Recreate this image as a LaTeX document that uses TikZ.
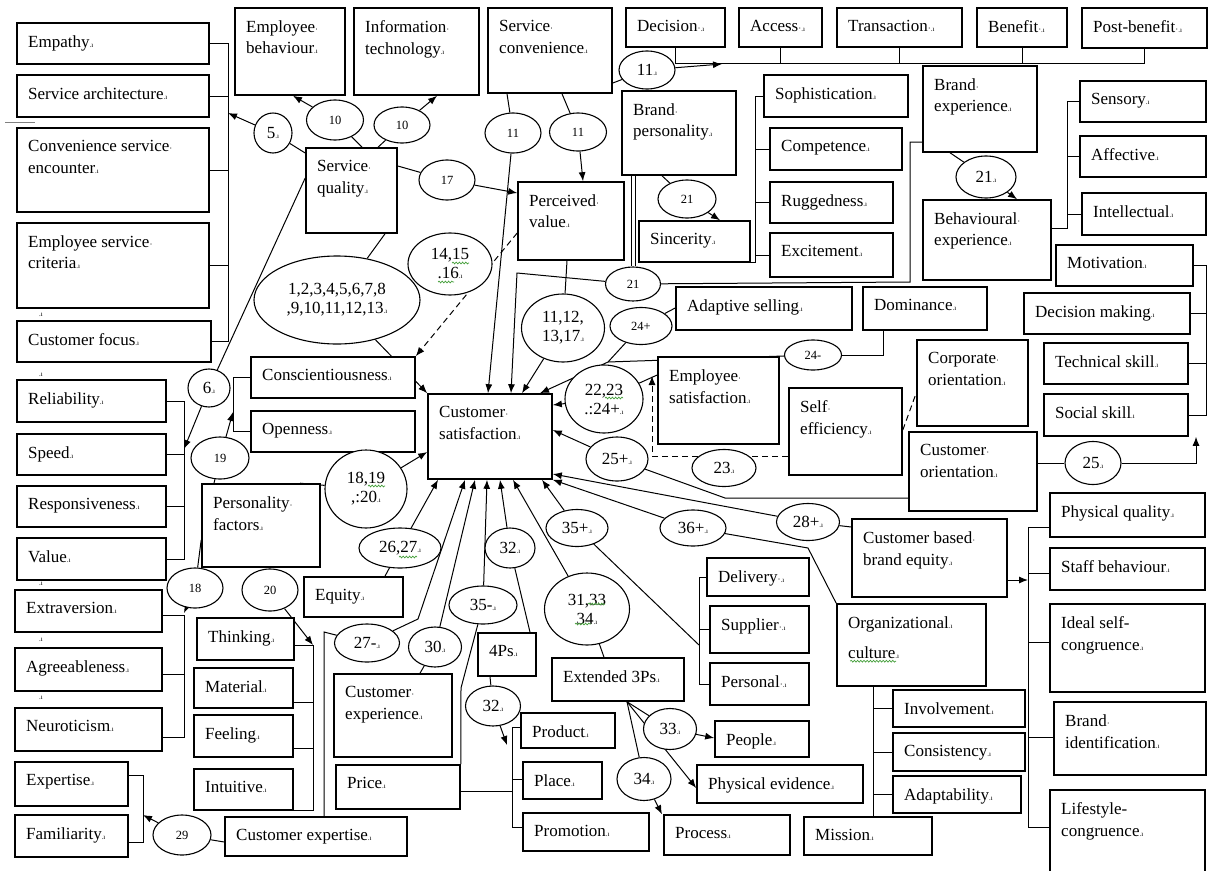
\documentclass[tikz,border=0pt]{standalone}
\usepackage{fontspec}
\setmainfont{Liberation Serif}
\usetikzlibrary{arrows.meta,calc,shapes.geometric,decorations.pathmorphing,backgrounds}

\definecolor{sqgreen}{RGB}{70,160,60}

% Word-style formatting marks
\newcommand\mk{{\fontsize{7}{7}\selectfont .ı}}
\newcommand\sd{{\fontsize{9}{9}\selectfont ·}}

% box: name, x1, y1, x2, y2, text (pixel coordinates, y downwards)
\newcommand\drawbox[6]{%
  \node[box, minimum width={#4-#2}, minimum height={#5-#3}] (#1) at ({(#2+#4)/2},{(#3+#5)/2}) {};
  \node[txt] (#1-t) at (#2,#3) {#6};}
% oval: name, cx, cy, width, height, text
\newcommand\drawoval[6]{%
  \node[oval, minimum width=#4, minimum height=#5] (#1) at (#2,#3) {#6};}

\begin{document}
\begin{tikzpicture}[x=1pt,y=-1pt,
  box/.style={draw, fill=white, line width=1.6pt, inner sep=0pt},
  txt/.style={anchor=north west, inner xsep=11pt, inner ysep=12.5pt, align=left,
              font=\fontsize{17}{21.5}\selectfont},
  oval/.style={draw, ellipse, fill=white, line width=1.1pt, inner sep=0pt, align=center,
               font=\fontsize{17}{19}\selectfont},
  ln/.style={line width=1pt},
  arr/.style={ln, -{Latex[length=9pt,width=7pt]}},
  dsh/.style={dash pattern=on 6pt off 4pt},
  sq/.style={draw=sqgreen, line width=0.7pt, decorate,
             decoration={snake, amplitude=0.9pt, segment length=3.2pt}},
]
\useasboundingbox (0,0) rectangle (1212,870);

% ---------- boxes ----------
\drawbox{empathy}{17}{23}{209}{64}{Empathy\mk}
\drawbox{servarch}{17}{75}{209}{117}{Service architecture\mk}
\drawbox{convenc}{17}{128}{209}{212}{Convenience service\sd\\encounter\mk}
\drawbox{empcrit}{17}{223}{209}{308}{Employee service\sd\\criteria\mk}
\drawbox{custfocus}{17}{321}{211}{362}{Customer focus\mk}
\drawbox{reliab}{17}{380}{166}{422}{Reliability\mk}
\drawbox{speed}{17}{434}{166}{475}{Speed\mk}
\drawbox{respons}{17}{486}{166}{527}{Responsiveness\mk}
\drawbox{value}{17}{538}{166}{580}{Value\mk}
\drawbox{extrav}{15}{590}{162}{632}{Extraversion\mk}
\drawbox{agree}{15}{648}{162}{691}{Agreeableness\mk}
\drawbox{neuro}{15}{708}{162}{751}{Neuroticism\mk}
\drawbox{expertise}{15}{762}{128}{806}{Expertise\mk}
\drawbox{famil}{15}{815}{128}{857}{Familiarity\mk}
\drawbox{empbeh}{235}{8}{345}{95}{Employee\sd\\behaviour\mk}
\drawbox{infotech}{354}{8}{479}{95}{Information\sd\\technology\mk}
\drawbox{servconv}{488}{8}{612}{93}{Service\sd\\convenience\mk}
\drawbox{decision}{626}{8}{725}{47}{Decision\sd\mk}
\drawbox{access}{739}{8}{822}{47}{Access\sd\mk}
\drawbox{transaction}{837}{8}{962}{47}{Transaction\sd\mk}
\drawbox{benefit}{977}{8}{1067}{47}{Benefit\sd\mk}
\drawbox{postben}{1082}{8}{1207}{48}{Post-benefit\sd\mk}
\drawbox{servqual}{306}{148}{397}{233}{Service\sd\\quality\mk}
\drawbox{percval}{518}{182}{624}{260}{Perceived\sd\\value\mk}
\drawbox{brandpers}{622}{91}{736}{175}{Brand\sd\\personality\mk}
\drawbox{sophist}{764}{75}{908}{117}{Sophistication\mk}
\drawbox{compet}{770}{128}{902}{170}{Competence\mk}
\drawbox{rugged}{770}{182}{893}{223}{Ruggedness\mk}
\drawbox{excite}{770}{233}{893}{277}{Excitement\mk}
\drawbox{sincerity}{639}{221}{750}{262}{Sincerity\mk}
\drawbox{brandexp}{923}{66}{1037}{152}{Brand\sd\\experience\mk}
\drawbox{behavexp}{923}{200}{1051}{280}{Behavioural\sd\\experience\mk}
\drawbox{sensory}{1080}{81}{1206}{122}{Sensory\mk}
\drawbox{affective}{1080}{136}{1206}{177}{Affective\mk}
\drawbox{intellect}{1082}{193}{1206}{235}{Intellectual\mk}
\drawbox{motivation}{1056}{245}{1193}{286}{Motivation\mk}
\drawbox{decmaking}{1024}{293}{1190}{334}{Decision making\mk}
\drawbox{techskill}{1044}{343}{1188}{384}{Technical skill\mk}
\drawbox{socskill}{1044}{394}{1188}{436}{Social skill\mk}
\drawbox{adaptsell}{676}{287}{852}{330}{Adaptive selling\mk}
\drawbox{dominance}{863}{287}{987}{330}{Dominance\mk}
\drawbox{consc}{251}{357}{415}{398}{Conscientiousness\mk}
\drawbox{openness}{251}{411}{415}{452}{Openness\mk}
\drawbox{custsat}{428}{394}{552}{479}{Customer\sd\\satisfaction\mk}
\drawbox{empsat}{658}{357}{779}{444}{Employee\sd\\satisfaction\mk}
\drawbox{selfeff}{789}{388}{902}{475}{Self\sd\\efficiency\mk}
\drawbox{corpor}{917}{340}{1028}{426}{Corporate\sd\\orientation\mk}
\drawbox{custor}{909}{432}{1037}{511}{Customer\sd\\orientation\mk}
\drawbox{cbbe}{852}{519}{1007}{597}{Customer based\sd\\brand equity\mk}
\drawbox{physq}{1050}{493}{1205}{537}{Physical quality\mk}
\drawbox{staffb}{1050}{548}{1205}{590}{Staff behaviour\mk}
\drawbox{idealself}{1050}{604}{1205}{692}{Ideal self-\\congruence\mk}
\drawbox{brandid}{1054}{702}{1206}{775}{Brand\sd\\identification\mk}
\drawbox{lifestyle}{1050}{790}{1205}{874}{Lifestyle-\\congruence\mk}
\drawbox{persfact}{202}{484}{320}{567}{Personality\sd\\factors\mk}
\drawbox{equity}{304}{577}{403}{617}{Equity\mk}
\drawbox{thinking}{197}{618}{294}{660}{Thinking\mk}
\drawbox{material}{194}{668}{293}{708}{Material\mk}
\drawbox{feeling}{194}{715}{293}{757}{Feeling\mk}
\drawbox{intuitive}{194}{769}{293}{810}{Intuitive\mk}
\drawbox{custexp}{334}{674}{452}{757}{Customer\sd\\experience\mk}
\drawbox{price}{336}{765}{460}{809}{Price\mk}
\drawbox{custexpert}{225}{817}{407}{856}{Customer expertise\mk}
\drawbox{fourps}{478}{633}{536}{676}{4Ps\mk}
\drawbox{product}{521}{713}{615}{748}{Product\mk}
\drawbox{place}{523}{762}{602}{799}{Place\mk}
\drawbox{promotion}{523}{813}{649}{851}{Promotion\mk}
\drawbox{ext3ps}{552}{658}{684}{701}{Extended 3Ps\mk}
\drawbox{delivery}{707}{558}{809}{596}{Delivery\sd\mk}
\drawbox{supplier}{710}{606}{809}{653}{Supplier\sd\mk}
\drawbox{personal}{710}{663}{809}{705}{Personal\sd\mk}
\drawbox{people}{715}{721}{809}{757}{People\mk}
\drawbox{physev}{697}{765}{863}{803}{Physical evidence\mk}
\drawbox{process}{664}{815}{790}{855}{Process\mk}
\drawbox{orgcult}{837}{604}{986}{686}{Organizational\mk\\[8pt]culture\mk}
\drawbox{involve}{893}{690}{1025}{727}{Involvement\mk}
\drawbox{consist}{893}{733}{1025}{771}{Consistency\mk}
\drawbox{adapt}{893}{776}{1021}{813}{Adaptability\mk}
\drawbox{mission}{804}{817}{932}{855}{Mission\mk}

% ---------- ovals ----------
\drawoval{e5}{273}{133}{38}{40}{5\mk}
\drawoval{e10a}{335}{120}{57}{40}{\fontsize{12.5}{14}\selectfont 10}
\drawoval{e10b}{402}{125}{56}{36}{\fontsize{12.5}{14}\selectfont 10}
\drawoval{e11a}{513}{133}{56}{40}{\fontsize{12.5}{14}\selectfont 11}
\drawoval{e11b}{578}{132}{57}{38}{\fontsize{12.5}{14}\selectfont 11}
\drawoval{e11c}{647}{70}{56}{38}{11\mk}
\drawoval{e17}{447}{180}{56}{40}{\fontsize{12.5}{14}\selectfont 17}
\drawoval{e21a}{687}{199}{58}{38}{\fontsize{12.5}{14}\selectfont 21}
\drawoval{e21b}{986}{177}{60}{42}{21\mk}
\drawoval{e21c}{633}{284}{55}{34}{\fontsize{12.5}{14}\selectfont 21}
\drawoval{e113}{337}{300}{166}{88}{1,2,3,4,5,6,7,8\\,9,10,11,12,13\mk}
\drawoval{e1416}{450}{264}{84}{62}{14,15\\.16\mk}
\drawoval{e1117}{563}{328}{83}{68}{11,12,\\13,17\mk}
\drawoval{e24p}{641}{326}{62}{37}{\fontsize{12.5}{14}\selectfont 24+}
\drawoval{e24m}{813}{355}{57}{30}{\fontsize{12.5}{14}\selectfont 24-}
\drawoval{e2224}{604}{399}{78}{68}{22,23\\.:24+\mk}
\drawoval{e6}{209}{388}{42}{38}{6\mk}
\drawoval{e19}{220}{458}{58}{42}{\fontsize{12.5}{14}\selectfont 19}
\drawoval{e1820}{366}{489}{82}{78}{18,19\\,:20\mk}
\drawoval{e25p}{617}{459}{62}{44}{25+\mk}
\drawoval{e23}{724}{468}{64}{37}{23\mk}
\drawoval{e25}{1093}{463}{56}{43}{25\mk}
\drawoval{e28}{808}{522}{63}{37}{28+\mk}
\drawoval{e36}{693}{528}{66}{36}{36+\mk}
\drawoval{e35p}{577}{528}{62}{37}{35+\mk}
\drawoval{e2627}{400}{548}{82}{40}{26,27\mk}
\drawoval{e32a}{510}{548}{50}{40}{32\mk}
\drawoval{e18}{195}{588}{56}{40}{\fontsize{12.5}{14}\selectfont 18}
\drawoval{e20}{270}{590}{56}{42}{\fontsize{12.5}{14}\selectfont 20}
\drawoval{e313334}{587}{609}{85}{72}{31,33\\34\mk}
\drawoval{e35m}{483}{605}{68}{38}{35-\mk}
\drawoval{e27}{367}{643}{65}{38}{27-\mk}
\drawoval{e30}{435}{647}{53}{40}{30\mk}
\drawoval{e32b}{493}{706}{55}{40}{32\mk}
\drawoval{e33}{670}{729}{53}{41}{33\mk}
\drawoval{e34}{644}{779}{54}{43}{34\mk}
\drawoval{e29}{182}{835}{58}{40}{\fontsize{12.5}{14}\selectfont 29}

% spell-check underlines
\draw[sq] ($(e1416)+(2,-1)$) -- ($(e1416)+(19,-1)$);
\draw[sq] ($(e1416)+(-12,18)$) -- ($(e1416)+(4,18)$);
\draw[sq] ($(e1820)+(2,-3)$) -- ($(e1820)+(19,-3)$);
\draw[sq] ($(e2627)+(-1,9)$) -- ($(e2627)+(17,9)$);
\draw[sq] ($(e2224)+(1,-1)$) -- ($(e2224)+(19,-1)$);
\draw[sq] ($(e313334)+(1,-5)$) -- ($(e313334)+(18,-5)$);
\draw[sq] ($(e313334)+(-12,15)$) -- ($(e313334)+(4,15)$);
\draw[sq] ($(orgcult.north west)+(14,58)$) -- ($(orgcult.north west)+(60,58)$);

% empty paragraph marks
\foreach \yy [count=\i] in {315,375,584,640,698}
  \node[inner sep=0pt] (pm\i) at (41,\yy) {\mk};

% ---------- connectors ----------
\begin{scope}[on background layer]
\fill[white] (0,0) rectangle (1212,870);
\draw[gray, line width=0.8pt] (5,122) -- (35,122);

% service quality dimensions
\coordinate (busA) at (228,0);
\draw[ln] (empathy.east) -- (empathy.east -| busA) -- (custfocus.east -| busA) -- (custfocus.east);
\draw[ln] (servarch.east) -- (servarch.east -| busA);
\draw[ln] (convenc.east) -- (convenc.east -| busA);
\draw[ln] (empcrit.east) -- (empcrit.east -| busA);
\draw[ln] (servqual.west |- 0,153) -- (e5);
\draw[arr] (e5) -- (busA |- 0,113);

% around service quality
\draw[ln] (servqual.north -| 362,0) -- (e10a);
\draw[arr] (e10a) -- (empbeh.south -| 293,0);
\draw[ln] (servqual.north -| 378,0) -- (e10b);
\draw[arr] (e10b) -- (infotech.south -| 437,0);
\draw[ln] (servqual.east |- 0,166) -- (e17);
\draw[arr] (e17) -- (percval.west |- 0,193);
\draw[ln] (servqual.south -| 385,0) -- (e113);
\draw[arr] (e113) -- (custsat.north west);

% service convenience
\draw[ln] (servconv.south -| 507,0) -- (e11a);
\draw[arr] (e11a) -- (custsat.north -| 488,0);
\draw[ln] (servconv.south -| 562,0) -- (e11b);
\draw[arr] (e11b) -- (percval.north -| 583,0);
\coordinate (busT) at (0,63);
\coordinate (t11) at (722,64);
\draw[ln] (servconv.east |- 0,83) -- (e11c);
\draw[arr] (e11c) -- (t11);
\draw[ln] (decision.south) -- (decision.south |- busT) -- (postben.south |- busT) -- (postben.south);
\draw[ln] (access.south) -- (access.south |- busT);
\draw[ln] (transaction.south) -- (transaction.south |- busT);
\draw[ln] (benefit.south) -- (benefit.south |- busT);

% brand personality
\coordinate (busB) at (755,0);
\draw[ln] (sophist.west) -- (sophist.west -| busB) -- (sincerity.south east -| busB) -- (sincerity.south east);
\draw[ln] (compet.west) -- (compet.west -| busB);
\draw[ln] (rugged.west) -- (rugged.west -| busB);
\draw[ln] (excite.west) -- (excite.west -| busB);
\draw[ln] (brandpers.south -| 662,0) -- (e21a);
\draw[arr] (e21a) -- (sincerity.north -| 720,0);
\draw[ln] (brandpers.south -| 631,0) -- (e21c.north -| 631,0);
\draw[ln] (brandpers.south -| 635,0) -- (e21c.north -| 635,0);

% brand experience
\coordinate (k1) at (910,142);
\coordinate (k2) at (910,282);
\coordinate (k3) at (517,273);
\draw[ln] (brandexp.west |- k1) -- (k1) -- (k2) -- (e21c);
\draw[arr] (e21c) -- (k3) -- (custsat.north -| 511,0);
\draw[ln] (brandexp.south -| 950,0) -- (e21b);
\draw[arr] (e21b) -- (behavexp.north -| 1017,0);
\coordinate (kb) at (1067,228);
\draw[ln] (sensory.west) -- (sensory.west -| kb) -- (kb) -- (behavexp.east |- kb);
\draw[ln] (affective.west) -- (affective.west -| kb);
\draw[ln] (intellect.west) -- (intellect.west -| kb);

% selling skills
\coordinate (km) at (1206,0);
\draw[ln] (motivation.east) -- (motivation.east -| km) -- (socskill.east -| km) -- (socskill.east);
\draw[ln] (decmaking.east) -- (decmaking.east -| km);
\draw[ln] (techskill.east) -- (techskill.east -| km);
\draw[ln] (custor.east |- e25) -- (e25);
\draw[arr] (e25) -- (e25 -| 1196,0) -- (socskill.south -| 1196,0);

% orientation, efficiency, employee satisfaction
\draw[ln,dsh] (selfeff.east |- 0,430) -- (corpor.west |- 0,393);
\coordinate (k25) at (725,498);
\draw[ln] (custor.west |- k25) -- (k25) -- (e25p);
\draw[arr] (e25p) -- (custsat.east |- 0,430);
\coordinate (k23) at (652,456);
\draw[arr,dsh] (selfeff.west |- k23) -- (k23) -- (k23 |- 0,376);
\draw[ln] (empsat.west |- 0,375) -- (e2224);
\draw[arr] (e2224) -- (custsat.east |- 0,405);

% adaptive selling, dominance
\coordinate (k24) at (608,362);
\draw[ln] (adaptsell.west |- 0,308) -- (e24p);
\draw[arr] (e24p) -- (k24) -- (custsat.north -| 540,0);
\draw[ln] (dominance.south -| 883,0) |- (e24m);
\draw[ln] (e24m) -- (k24);

% perceived value
\draw[ln] (percval.south -| 567,0) -- (e1117);
\draw[arr] (e1117) -- (custsat.north -| 522,0);
\draw[arr,dsh] (percval.west |- 0,233) -- (consc.north east);

% reliability group
\coordinate (busD) at (184,0);
\draw[ln] (servqual.west |- 0,178) -- (e6);
\draw[arr] (e6) -- (busD |- 0,449);
\draw[ln] (reliab.east) -- (reliab.east -| busD) -- (value.east -| busD) -- (value.east);
\draw[ln] (speed.east) -- (speed.east -| busD);
\draw[ln] (respons.east) -- (respons.east -| busD);

% personality
\coordinate (busE) at (233,0);
\draw[ln] (consc.west) -- (consc.west -| busE) -- (openness.west -| busE) -- (openness.west);
\draw[ln] (persfact.north -| 214,0) -- (e19);
\draw[arr] (e19) -- (busE |- 0,412);
\draw[ln] (persfact.west |- 0,540) -- (e18);
\draw[arr] (e18) -- (busD |- 0,613);
\draw[ln] (extrav.east |- 0,615) -- (busD |- 0,615) -- (busD |- 0,737) -- (neuro.east |- 0,737);
\draw[ln] (agree.east |- 0,674) -- (busD |- 0,674);
\coordinate (busG) at (313,0);
\draw[ln] (persfact.south -| 269,0) -- (e20);
\draw[arr] (e20) -- (busG |- 0,645);
\draw[ln] (thinking.east |- 0,645) -- (busG |- 0,645) -- (busG |- 0,810) -- (intuitive.east |- 0,810);
\draw[ln] (material.east |- 0,702) -- (busG |- 0,702);
\draw[ln] (feeling.east |- 0,748) -- (busG |- 0,748);
\draw[ln] (persfact.north -| 300,0) -- (e1820);
\draw[arr] (e1820) -- (custsat.west |- 0,452);

% lower group
\draw[ln] (equity.north -| 385,0) -- (e2627);
\draw[arr] (e2627) -- (custsat.south -| 438,0);
\coordinate (k27a) at (324,632);
\coordinate (k27b) at (418,619);
\draw[ln] (custexpert.north -| k27a) -- (k27a) -- (e27);
\draw[arr] (e27) -- (k27b) -- (custsat.south -| 465,0);
\coordinate (busH) at (143,0);
\draw[ln] (custexpert.west |- 0,842) -- (e29);
\draw[arr] (e29) -- (busH |- 0,815);
\draw[ln] (expertise.east |- 0,775) -- (busH |- 0,775) -- (busH |- 0,842) -- (famil.east |- 0,842);
\draw[ln] (custexp.north -| 420,0) -- (e30);
\draw[arr] (e30) -- (custsat.south -| 475,0);
\coordinate (k35) at (461,688);
\draw[ln] (price.north east) -- (k35) -- (e35m);
\draw[arr] (e35m) -- (custsat.south -| 487,0);
\draw[ln] (fourps.north -| 530,0) -- (e32a);
\draw[arr] (e32a) -- (custsat.south -| 500,0);
\coordinate (k32) at (507,745);
\draw[ln] (fourps.south -| 490,0) -- (e32b);
\draw[arr] (e32b) -- (k32);
\coordinate (busI) at (512,0);
\draw[ln] (product.west |- 0,727) -- (busI |- 0,727) -- (busI |- 0,827) -- (promotion.west |- 0,827);
\draw[ln] (place.west |- 0,779) -- (busI |- 0,779);
\draw[ln] (price.east |- 0,791) -- (busI |- 0,791);
\draw[ln] (ext3ps.north -| 604,0) -- (e313334);
\draw[arr] (e313334) -- (custsat.south -| 513,0);
\draw[ln] (ext3ps.south -| 627,0) -- (e33);
\draw[arr] (e33) -- (people.west |- 0,738);
\draw[arr] (ext3ps.south -| 627,0) -- (physev.west |- 0,788);
\draw[ln] (ext3ps.south -| 627,0) -- (e34);
\draw[arr] (e34) -- (process.north -| 662,0);
\coordinate (busJ) at (699,0);
\draw[ln] (delivery.west) -- (delivery.west -| busJ) -- (personal.west -| busJ) -- (personal.west);
\draw[ln] (supplier.west) -- (supplier.west -| busJ);
\draw[arr] (e35p) -- (custsat.south -| 542,0);
\draw[ln] (e35p) -- (busJ |- 0,645);
\coordinate (k36) at (808,548);
\draw[arr] (e36) -- (custsat.south east);
\draw[ln] (e36) -- (k36) -- (orgcult.north west);
\draw[arr] (e28) -- (custsat.east |- 0,474);
\draw[ln] (e28) -- (cbbe.west |- 0,527);
\coordinate (busK) at (1028,0);
\draw[arr] (cbbe.east |- 0,580) -- (busK |- 0,580);
\draw[ln] (physq.west |- 0,527) -- (busK |- 0,527) -- (busK |- 0,827) -- (lifestyle.west |- 0,827);
\draw[ln] (staffb.west |- 0,573) -- (busK |- 0,573);
\draw[ln] (idealself.west |- 0,642) -- (busK |- 0,642);
\draw[ln] (brandid.west |- 0,737) -- (busK |- 0,737);
\coordinate (busL) at (873,0);
\draw[ln] (orgcult.south -| busL) -- (mission.north -| busL);
\draw[ln] (involve.west) -- (involve.west -| busL);
\draw[ln] (consist.west) -- (consist.west -| busL);
\draw[ln] (adapt.west) -- (adapt.west -| busL);
\end{scope}
\end{tikzpicture}
\end{document}
